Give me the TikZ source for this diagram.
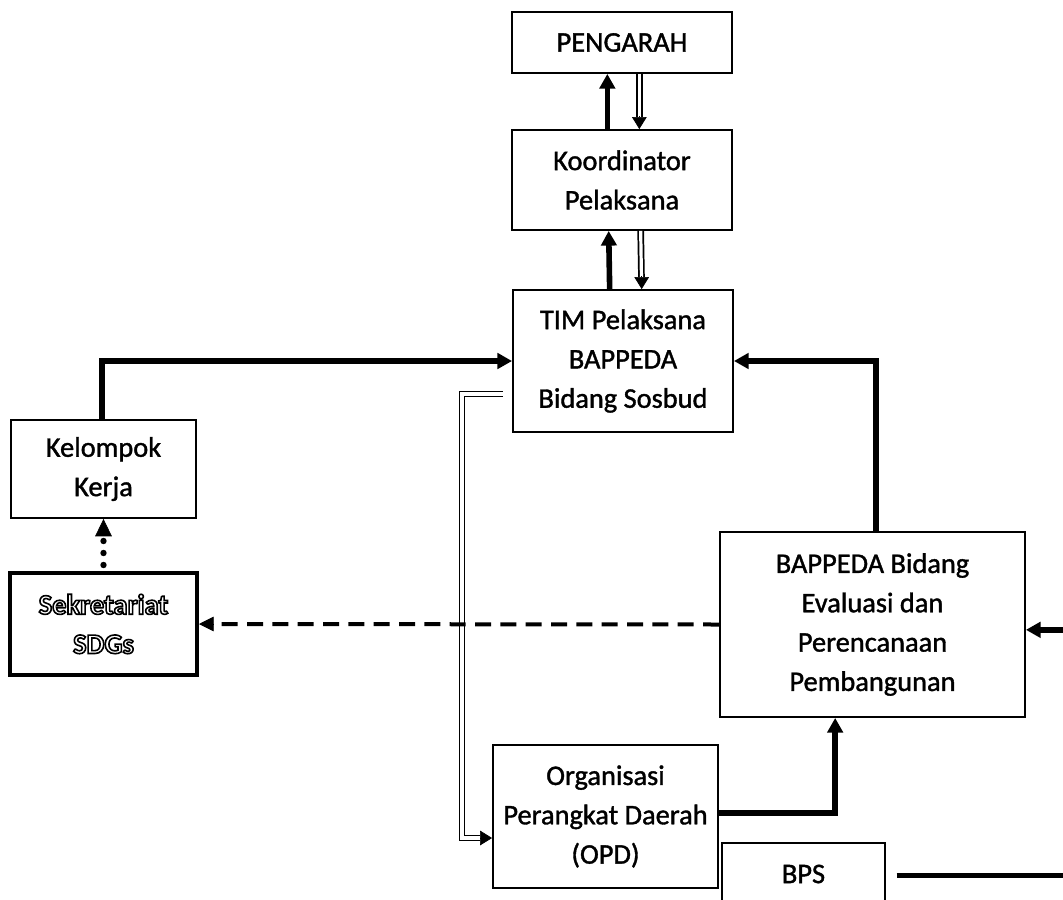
\documentclass[tikz,border=0pt]{standalone}
\usepackage{fontspec}
\setmainfont{Carlito}
\newfontfamily\boxfont{Carlito}[FakeBold=1.3]
\usetikzlibrary{arrows.meta,calc}
\tikzset{
  box/.style={draw, line width=1.4pt, align=center, inner sep=0pt, font=\boxfont\fontsize{21.3}{29.5}\selectfont},
  thk/.style={line width=4.2pt, -{Triangle[length=11pt,width=11.5pt]}},
  dbl/.style={double, double distance=2.4pt, line width=1.3pt},
  dbltip/.style={line width=0.5pt, -{Triangle[length=9pt,width=11pt]}},
  dotarrow/.style={line width=4.8pt, line cap=round, dash pattern=on 0pt off 9pt, shorten >=15pt},
  dasharrow/.style={line width=3pt, dash pattern=on 12pt off 7pt, shorten >=8pt},
}
\newcommand{\outl}[1]{\special{pdf:literal direct 1 Tr 1.2 w}#1\special{pdf:literal direct 0 Tr}}
\begin{document}
\begin{tikzpicture}[x=0.75pt,y=-0.75pt]
\useasboundingbox (0,0) rectangle (1063,899);
% nodes
\node[box, minimum width=165pt, minimum height=45.75pt] (p) at (622,42.5) {PENGARAH};
\node[box, minimum width=165pt, minimum height=75pt] (k) at (622,180) {Koordinator\\Pelaksana};
\node[box, minimum width=165pt, minimum height=106.5pt] (t) at (623,361) {TIM Pelaksana\\BAPPEDA\\Bidang Sosbud};
\node[box, minimum width=138.75pt, minimum height=73.5pt] (kel) at (103.5,469) {Kelompok\\Kerja};
\node[box, line width=3pt, minimum width=140.25pt, minimum height=76.5pt, font=\rmfamily\bfseries\fontsize{21.3}{29.5}\selectfont] (sek) at (103.5,624) {\outl{Sekretariat}\\\outl{SDGs}};
\node[box, minimum width=228.75pt, minimum height=138.75pt] (ev) at (872.5,624.5) {BAPPEDA Bidang\\Evaluasi dan\\Perencanaan\\Pembangunan};
\node[box, minimum width=168.75pt, minimum height=107.25pt] (opd) at (605.5,816.5) {Organisasi\\Perangkat Daerah\\(OPD)};
\node[box, minimum width=122.25pt, minimum height=46.5pt] (bps) at (803.5,874) {BPS};
% coordinates
\coordinate (dc) at (462,394);
\coordinate (opdin) at ($(opd.west)+(0,21.5)$);
\coordinate (opdpre) at ($(opd.west)+(-12,21.5)$);
% PENGARAH <-> Koordinator
\draw[thk] ([xshift=-11pt]k.north) -- ([xshift=-11pt]p.south);
\draw[dbl, shorten >=9pt] ([xshift=13pt]p.south) -- ([xshift=13pt]k.north);
\draw[dbltip] ([xshift=13pt,yshift=9.5pt]k.north) -- ([xshift=13pt]k.north);
% Koordinator <-> TIM
\draw[thk] ([xshift=-10pt]t.north) -- ([xshift=-10pt]k.south);
\draw[dbl, shorten >=9pt] ([xshift=14pt]k.south) -- ([xshift=14pt]t.north);
\draw[dbltip] ([xshift=14pt,yshift=9.5pt]t.north) -- ([xshift=14pt]t.north);
% Kelompok -> TIM
\draw[thk] ([xshift=-1pt]kel.north) |- (t.west);
% Eval -> TIM
\draw[thk] ([xshift=2.5pt]ev.north) |- (t.east);
% OPD -> Eval
\draw[thk] ([yshift=2.5pt]opd.east) -| ([xshift=-28pt]ev.south);
% BPS -> Eval (route off page)
\draw[thk, shorten <=8pt] ([yshift=-1pt]bps.east) -- ++(250,0) |- ([yshift=-4pt]ev.east);
% TIM => OPD double line
\draw[dbl, shorten >=9pt] ($(t.west |- dc)+(-9,0)$) -- (dc) |- (opdin);
\draw[dbltip] (opdpre) -- (opdin);
% Sekretariat -> Kelompok dotted
\draw[dotarrow] ([yshift=4.5pt]sek.north) -- (kel.south);
\draw[line width=0.5pt, -{Triangle[length=13pt,width=12.5pt]}] ([yshift=-10pt]kel.south) -- (kel.south);
% Eval -> Sekretariat dashed
\draw[dasharrow] (ev.west) -- ([yshift=0pt]sek.east);
\draw[line width=0.5pt, -{Triangle[length=11pt,width=11pt]}] ([xshift=8pt]sek.east) -- (sek.east);
\end{tikzpicture}
\end{document}
